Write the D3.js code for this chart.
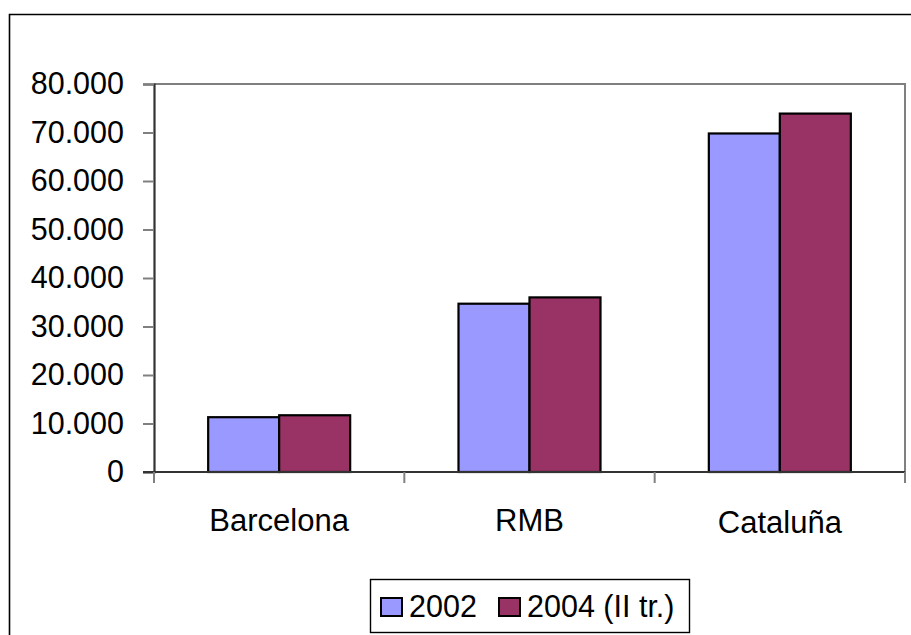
<!DOCTYPE html>
<html>
<head>
<meta charset="utf-8">
<script src="https://cdn.jsdelivr.net/npm/d3@7"></script>
<style>
  html, body { margin: 0; padding: 0; background: #fff; }
  svg { display: block; font-family: "Liberation Sans", Arial, sans-serif; }
</style>
</head>
<body>
<svg id="chart" width="911" height="635"></svg>
<script>
// Areas and series
const categories = ["Barcelona", "RMB", "Cataluña"];
const seriesNames = ["2002", "2004 (II tr.)"];
const values2002 = [11300, 34700, 69800];
const values2004 = [11700, 36000, 73900];
const yTicks = [0, 10000, 20000, 30000, 40000, 50000, 60000, 70000, 80000];
const seriesColors = ["#9999FF", "#993366"];

const svg = d3.select("#chart");
const W = 911, H = 635;

// Plot rectangle
const plot = { left: 154, top: 84, right: 905, bottom: 472 };

const fmt = d3.formatLocale({ decimal: ",", thousands: ".", grouping: [3], currency: ["", ""] }).format(",d");

const x = d3.scaleBand().domain(categories).range([plot.left, plot.right]).padding(0);
const groupW = 142;
const xs = d3.scaleBand().domain(seriesNames)
  .range([(x.bandwidth() - groupW) / 2, (x.bandwidth() + groupW) / 2]).padding(0);
const y = d3.scaleLinear().domain([0, 80000]).range([plot.bottom, plot.top]);

// Outer chart frame
svg.append("path")
  .attr("d", `M9.5,${H + 2} V14.5 H${W + 2}`)
  .attr("fill", "none").attr("stroke", "#000").attr("stroke-width", 1.6);

// Plot frame (top and right edges)
svg.append("path")
  .attr("d", `M${plot.left},${plot.top} H${plot.right} V${plot.bottom}`)
  .attr("fill", "none").attr("stroke", "#808080").attr("stroke-width", 2);

// Bars
const rows = categories.map((c, i) => ({ cat: c, vals: [values2002[i], values2004[i]] }));
const groups = svg.append("g").selectAll("g").data(rows).join("g")
  .attr("transform", d => `translate(${x(d.cat)},0)`);
groups.selectAll("rect")
  .data(d => d.vals.map((v, j) => ({ name: seriesNames[j], v, j })))
  .join("rect")
  .attr("x", d => xs(d.name))
  .attr("width", xs.bandwidth())
  .attr("y", d => y(d.v))
  .attr("height", d => y(0) - y(d.v))
  .attr("fill", d => seriesColors[d.j])
  .attr("stroke", "#000").attr("stroke-width", 2.2);

// Y axis
const yAxis = svg.append("g")
  .attr("transform", `translate(${plot.left},0)`)
  .call(d3.axisLeft(y).tickValues(yTicks).tickFormat(fmt).tickSize(11).tickPadding(19));
yAxis.select(".domain").attr("stroke", "#333").attr("stroke-width", 2.2);
yAxis.selectAll(".tick line").attr("stroke", "#808080").attr("stroke-width", 2);
yAxis.selectAll(".tick text")
  .attr("fill", "#000").style("font-size", "30.5px")
  .style("font-family", "'Liberation Sans', Arial, sans-serif");

// X axis: ticks on band boundaries, labels centred in each band
const xAxisG = svg.append("g");
xAxisG.append("line")
  .attr("x1", plot.left - 11).attr("x2", plot.right)
  .attr("y1", plot.bottom).attr("y2", plot.bottom)
  .attr("stroke", "#333").attr("stroke-width", 2.2);
const bounds = categories.map(c => x(c)).concat([x(categories[categories.length - 1]) + x.bandwidth()]);
xAxisG.selectAll("line.tk").data(bounds).join("line").attr("class", "tk")
  .attr("x1", d => d).attr("x2", d => d)
  .attr("y1", plot.bottom).attr("y2", plot.bottom + 11)
  .attr("stroke", "#808080").attr("stroke-width", 2);
xAxisG.selectAll("text").data(categories).join("text")
  .attr("x", d => x(d) + x.bandwidth() / 2)
  .attr("y", (d, i) => i === 2 ? 533 : 531)
  .attr("text-anchor", "middle")
  .style("font-size", "31px")
  .text(d => d);

// Legend
const legend = svg.append("g");
legend.append("rect")
  .attr("x", 370.5).attr("y", 579.5).attr("width", 319).attr("height", 53)
  .attr("fill", "#fff").attr("stroke", "#000").attr("stroke-width", 1.4);
const legendItems = [
  { name: seriesNames[0], sx: 381, tx: 409 },
  { name: seriesNames[1], sx: 499, tx: 527 }
];
legendItems.forEach((it, i) => {
  legend.append("rect")
    .attr("x", it.sx).attr("y", 598).attr("width", 21).attr("height", 18)
    .attr("fill", seriesColors[i]).attr("stroke", "#000").attr("stroke-width", 2);
  legend.append("text")
    .attr("x", it.tx).attr("y", 617)
    .style("font-size", "30.5px")
    .text(it.name);
});
</script>
</body>
</html>
